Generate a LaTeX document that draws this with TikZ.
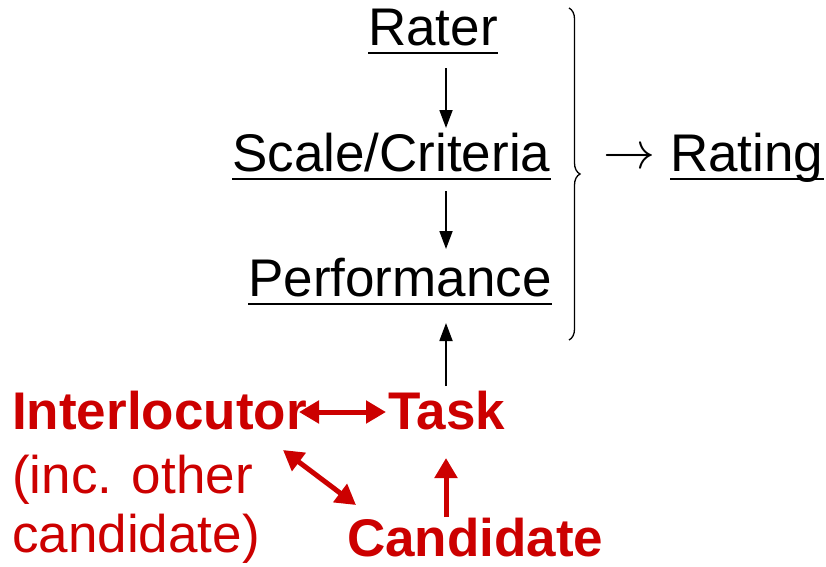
\documentclass[tikz,border=0pt]{standalone}
\usepackage{fontspec}
\setmainfont{Liberation Sans}
\usetikzlibrary{arrows.meta,decorations.pathreplacing}
\definecolor{myred}{HTML}{CC0000}
\tikzset{
  lbl/.style={anchor=base west,inner sep=0pt,font=\fontsize{53}{58}\selectfont},
  redlbl/.style={lbl,text=myred},
  boldred/.style={lbl,text=myred,font=\fontsize{53}{58}\selectfont\bfseries},
  ul/.style={line width=2.6pt},
  blk/.style={line width=1.8pt,-{Triangle[length=18pt,width=13pt]}},
  redarr/.style={myred,line width=5pt,-{Triangle[length=20pt,width=22pt]}},
  redarr2/.style={myred,line width=5pt,{Triangle[length=20pt,width=22pt]}-{Triangle[length=20pt,width=22pt]}}
}
\begin{document}
\begin{tikzpicture}[x=1pt,y=-1pt]
\useasboundingbox (0,0) rectangle (826,566);
% black nodes
\node[lbl] (rater) at (368,45) {Rater};
\node[lbl] (scale) at (232,171) {Scale/Criteria};
\node[lbl] (perf) at (248,296) {Performance};
\node[lbl] (rating) at (670,171) {Rating};
\node[anchor=center,inner sep=0pt] (to) at (629,159) {\scalebox{5.2}{$\rightarrow$}};
\foreach \n in {rater,scale,perf,rating}
  \draw[ul] ([yshift=-8pt]\n.base west) -- ([yshift=-8pt]\n.base east);
% brace
\coordinate (bt) at (569,8);
\coordinate (bb) at (569,340);
\draw[line width=1.3pt,decorate,decoration={brace,amplitude=11pt}] (bt) -- (bb);
% red nodes
\node[boldred] (inter) at (12,429) {Interlocutor};
\node[boldred] (task) at (388,429) {Task};
\node[redlbl] (inc) at (12,493) {(inc. other};
\node[redlbl] (cand2) at (12,552) {candidate)};
\node[boldred] (cand) at (347,556) {Candidate};
% black arrows
\coordinate (a1s) at (446,68);
\coordinate (a1e) at (446,128);
\draw[blk] (a1s) -- (a1e);
\coordinate (a2s) at (446,191);
\coordinate (a2e) at (446,249);
\draw[blk] (a2s) -- (a2e);
\coordinate (a3s) at (446,386);
\coordinate (a3e) at (446,323);
\draw[blk] (a3s) -- (a3e);
% red arrows
\coordinate (r1s) at (299,412);
\coordinate (r1e) at (386,412);
\draw[redarr2] (r1s) -- (r1e);
\coordinate (r2s) at (283,450);
\coordinate (r2e) at (356,505);
\draw[redarr2] (r2s) -- (r2e);
\coordinate (r3s) at (446,517);
\coordinate (r3e) at (446,458);
\draw[redarr] (r3s) -- (r3e);
\end{tikzpicture}
\end{document}
